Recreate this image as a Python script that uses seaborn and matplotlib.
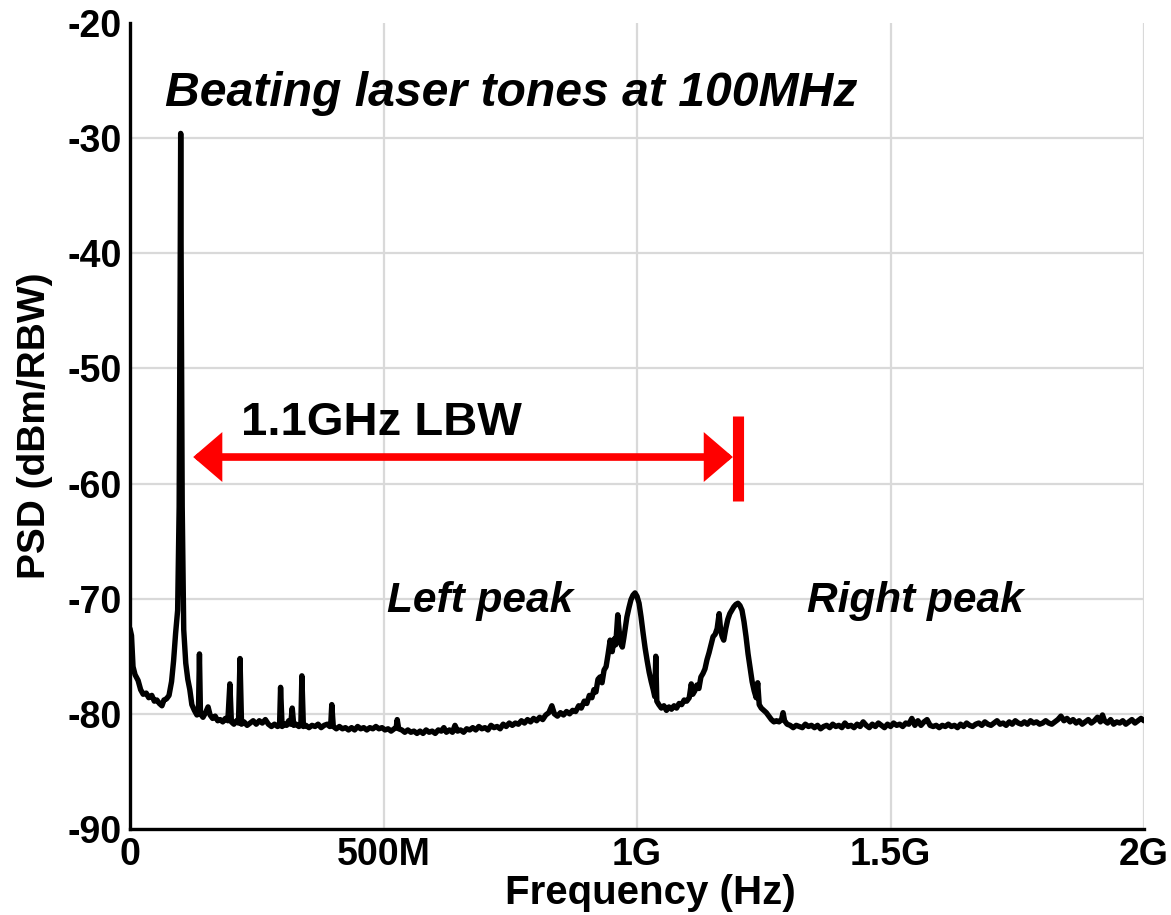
import matplotlib
matplotlib.use("Agg")
import matplotlib.pyplot as plt
import numpy as np
import pandas as pd
import seaborn as sns

# ---- spectrum trace (frequency in MHz, PSD in dBm/RBW) ----
# low-frequency region with the 100 MHz beat tone and its spurs
freq_low = [0, 3, 6, 10, 16, 21, 26, 32, 37, 43, 48, 53, 58, 63, 67, 72, 77, 82, 86, 90,
            94, 97, 99, 100, 101, 103, 106, 110, 114, 118, 122, 127, 132, 135, 137, 139,
            144, 149, 154, 158, 163, 168, 173, 178, 183, 188, 193, 197, 200, 205, 210,
            214, 217, 220, 225, 231, 237, 243, 249, 255, 261, 267, 273, 279, 285, 291,
            295, 297, 300, 305, 309, 313, 317, 320, 323, 328, 333, 337, 339, 342, 347,
            353, 359, 365, 371, 377, 383, 389, 394, 396, 398, 401]
psd_low = [-72.6, -73.2, -75.9, -76.6, -77.1, -77.9, -78.3, -78.2, -78.6, -78.4, -78.9,
           -78.8, -79.1, -79.3, -78.8, -78.7, -78.4, -77.2, -75.4, -73.0,
           -71.0, -62.0, -42.0, -29.6, -42.0, -62.0, -72.7, -75.6, -77.0, -77.9, -79.2,
           -79.7, -80.1, -80.0, -74.8, -80.0,
           -80.3, -79.9, -79.4, -80.1, -80.4, -80.2, -80.6, -80.5, -80.7, -80.4, -80.6,
           -77.4, -80.7, -80.9, -80.6,
           -80.8, -75.2, -80.9, -80.7, -81.0, -80.8, -80.6, -80.9, -80.6, -80.8, -80.5,
           -80.9, -81.1, -80.9, -81.1,
           -81.0, -77.7, -81.1, -80.9, -81.0, -80.6, -80.9, -79.5, -81.0, -80.9, -81.1,
           -81.0, -76.7, -81.1, -81.0,
           -81.2, -81.0, -81.1, -80.9, -81.2, -81.0, -80.9, -81.1, -80.9, -79.2, -81.1]

# flat floor between the beat tone and the resonance peaks
freq_mid = [407, 413, 419, 425, 431, 437, 443, 449, 455, 461, 467, 473, 479, 485, 491,
            497, 503, 509, 515, 521, 525, 527, 530, 536, 542, 548, 554, 560, 566, 572,
            578, 584, 590, 596, 602, 608, 614, 619, 624, 630, 636, 641, 646, 652, 658,
            664, 670, 676, 682, 688, 694, 700, 706, 712, 718, 724, 730, 736, 742, 748,
            754, 760, 766, 772, 778, 784, 790, 796, 802, 808, 814, 820, 826, 832, 837,
            843, 849, 855, 861, 867, 873, 879, 885, 890]
psd_mid = [-81.3, -81.1, -81.3, -81.2, -81.4, -81.2, -81.4, -81.1, -81.3, -81.2, -81.4,
           -81.2, -81.3, -81.1, -81.3,
           -81.2, -81.4, -81.3, -81.5, -81.3, -81.2, -80.5, -81.3, -81.4, -81.6, -81.4,
           -81.6, -81.5, -81.7, -81.5,
           -81.7, -81.4, -81.6, -81.5, -81.7, -81.4, -81.5, -81.2, -81.6, -81.4, -81.6,
           -81.0, -81.5, -81.4, -81.6,
           -81.3, -81.4, -81.2, -81.4, -81.1, -81.3, -81.2, -81.4, -81.0, -81.2, -81.1,
           -81.3, -80.9, -81.1, -80.8,
           -81.0, -80.8, -80.9, -80.6, -80.8, -80.5, -80.7, -80.4, -80.6, -80.3, -80.5,
           -80.1, -79.9, -79.3, -80.0,
           -80.2, -79.9, -80.1, -79.8, -80.0, -79.7, -79.8, -79.3, -79.5]

# left and right resonance peaks
freq_peaks = [896, 901, 906, 911, 915, 919, 923, 927, 931, 935, 939, 943, 947, 951, 955,
              958, 962, 965, 968, 971, 974, 977, 980, 984, 988, 992, 996, 1000, 1004,
              1008, 1012, 1016, 1020, 1024, 1028, 1032, 1035, 1037, 1039, 1043, 1048,
              1053, 1058, 1063, 1068, 1073, 1078, 1083, 1088, 1093, 1098, 1103, 1107,
              1110, 1114, 1118, 1122, 1126, 1130, 1134, 1138, 1142, 1146, 1150, 1154,
              1158, 1162, 1165, 1168, 1171, 1175, 1179, 1183, 1187, 1191, 1195, 1199,
              1203, 1207, 1211, 1215, 1219, 1223, 1227, 1231, 1235, 1238, 1241, 1245,
              1250, 1255, 1260, 1265, 1270, 1275, 1280, 1285, 1288, 1291, 1296, 1302,
              1308, 1314, 1320]
psd_peaks = [-78.9, -79.1, -78.4, -78.6, -77.9, -78.1, -77.0, -76.8, -77.3, -76.2, -75.9,
             -74.8, -73.6, -74.6, -73.5,
             -74.0, -71.4, -72.9, -73.9, -74.2, -73.4, -72.5, -71.6, -70.8, -70.1, -69.7,
             -69.5, -69.8, -70.4,
             -71.6, -73.0, -74.3, -75.4, -76.4, -77.2, -77.9, -78.5, -75.0, -78.9, -79.2,
             -79.5,
             -79.3, -79.7, -79.4, -79.6, -79.3, -79.5, -79.1, -79.2, -78.8, -78.9, -78.6,
             -77.4,
             -78.3, -78.0, -77.5, -77.8, -76.8, -76.5, -76.1, -75.3, -74.7, -74.0, -73.3,
             -73.1,
             -72.6, -71.3, -72.8, -73.3, -73.6, -72.6, -71.8, -71.3, -71.0, -70.7, -70.5,
             -70.4,
             -70.6, -71.0, -72.0, -73.3, -74.8, -76.0, -77.2, -78.0, -78.6, -77.3, -79.2,
             -79.5,
             -79.7, -79.9, -80.2, -80.5, -80.7, -80.6, -80.7, -80.5, -79.9, -80.6, -80.9,
             -81.0,
             -81.2, -81.0, -81.1]

# high-frequency noise floor up to 2 GHz
freq_high = [1326, 1332, 1338, 1344, 1350, 1356, 1362, 1368, 1374, 1380, 1386, 1392, 1398,
             1404, 1410, 1416, 1422, 1428, 1434, 1440, 1446, 1452, 1458, 1464, 1470, 1476,
             1482, 1488, 1494, 1500, 1506, 1512, 1518, 1524, 1530, 1536, 1542, 1548, 1554,
             1560, 1566, 1572, 1578, 1584, 1590, 1596, 1602, 1608, 1614, 1620, 1626, 1632,
             1638, 1644, 1650, 1656, 1662, 1668, 1674, 1680, 1686, 1692, 1698, 1704, 1710,
             1716, 1722, 1728, 1734, 1740, 1746, 1752, 1758, 1764, 1770, 1776, 1782, 1788,
             1794, 1800, 1806, 1812, 1818, 1824, 1830, 1836, 1842, 1848, 1854, 1860, 1866,
             1872, 1878, 1884, 1890, 1896, 1902, 1908, 1914, 1918, 1922, 1928, 1934, 1940,
             1946, 1952, 1958, 1964, 1970, 1976, 1982, 1988, 1994, 2000]
psd_high = [-81.2, -80.9, -81.1, -81.0, -81.2, -81.0, -81.3, -81.1, -81.0, -81.2, -80.9,
            -81.1, -81.0,
            -81.2, -80.8, -81.1, -81.0, -81.2, -80.9, -81.1, -80.7, -81.0, -81.2, -80.9,
            -81.1, -80.8,
            -81.0, -81.2, -80.9, -81.1, -80.8, -81.0, -80.9, -81.1, -80.8, -80.9, -80.4,
            -81.0, -80.6,
            -81.0, -80.7, -80.5, -81.0, -81.1, -81.0, -81.2, -81.0, -81.1, -80.9, -81.1,
            -81.0, -81.2,
            -80.9, -81.1, -80.8, -81.0, -81.1, -80.9, -80.8, -81.0, -80.7, -80.9, -81.0,
            -80.8, -80.6,
            -80.9, -80.8, -81.0, -80.7, -80.9, -80.6, -80.8, -80.9, -80.7, -80.9, -80.6,
            -80.8, -80.7,
            -80.9, -80.8, -80.6, -80.8, -80.9, -80.7, -80.5, -80.2, -80.6, -80.4, -80.7,
            -80.5, -80.8,
            -80.6, -80.9, -80.7, -80.5, -80.8, -80.6, -80.3, -80.7, -80.1, -80.6, -80.8,
            -80.5, -80.9,
            -80.7, -80.8, -80.6, -80.9, -80.7, -80.5, -80.8, -80.6, -80.4, -80.6]

# axis ticks
x_ticks = [0, 500, 1000, 1500, 2000]
x_tick_labels = ["0", "500M", "1G", "1.5G", "2G"]
y_ticks = [-90, -80, -70, -60, -50, -40, -30, -20]

# loop-bandwidth marker (MHz) and its height on the plot
lbw_start = 100
lbw_stop = 1200
lbw_level = -57.7

df = pd.DataFrame({
    "freq": freq_low + freq_mid + freq_peaks + freq_high,
    "psd": psd_low + psd_mid + psd_peaks + psd_high,
})

sns.set_theme(style="whitegrid")
plt.rcParams["font.family"] = ["Liberation Sans", "DejaVu Sans"]
plt.rcParams["font.weight"] = "bold"

fig = plt.figure(figsize=(11.71, 9.15), dpi=100)
ax = fig.add_axes([0.111, 0.094, 0.866, 0.881])

sns.lineplot(data=df, x="freq", y="psd", ax=ax, color="black", linewidth=3.9,
             estimator=None)

ax.set_xlim(0, 2000)
ax.set_ylim(-90, -20)
ax.set_xticks(x_ticks)
ax.set_xticklabels(x_tick_labels)
ax.set_yticks(y_ticks)
ax.set_yticklabels([str(v) for v in y_ticks])

ax.grid(True, color="#d9d9d9", linewidth=1.6)
ax.yaxis.get_gridlines()[-1].set_visible(False)
ax.set_axisbelow(True)

for side in ("top", "right"):
    ax.spines[side].set_visible(False)
for side in ("left", "bottom"):
    ax.spines[side].set_visible(True)
    ax.spines[side].set_color("black")
    ax.spines[side].set_linewidth(2.4)

ax.tick_params(axis="both", length=0, labelsize=27, pad=6, colors="black")
for lbl in ax.get_xticklabels() + ax.get_yticklabels():
    lbl.set_fontweight("bold")

ax.set_xlabel("Frequency (Hz)", fontsize=29, fontweight="bold", color="black")
ax.set_ylabel("PSD (dBm/RBW)", fontsize=28, fontweight="bold", labelpad=10, color="black")
ax.xaxis.set_label_coords(0.513, -0.056)

# annotations
ax.text(70, -27.2, "Beating laser tones at 100MHz", fontsize=34.7, fontweight="bold",
        fontstyle="italic", ha="left", va="baseline", color="black")
ax.text(219, -55.8, "1.1GHz LBW", fontsize=34, fontweight="bold",
        ha="left", va="baseline", color="black")
ax.text(506, -71.2, "Left peak", fontsize=30.5, fontweight="bold", fontstyle="italic",
        ha="left", va="baseline", color="black")
ax.text(1335, -71.2, "Right peak", fontsize=30.5, fontweight="bold", fontstyle="italic",
        ha="left", va="baseline", color="black")

ax.annotate("", xy=(lbw_stop, lbw_level), xytext=(lbw_start, lbw_level),
            arrowprops=dict(arrowstyle="<|-|>,head_length=1.4,head_width=1.2",
                            mutation_scale=10, lw=5.5, color="#ff0000",
                            shrinkA=9, shrinkB=4, joinstyle="miter"))
ax.plot([lbw_stop, lbw_stop], [-54.1, -61.5], color="#ff0000", lw=8,
        solid_capstyle="butt")

fig.savefig("out.png", dpi=100)
